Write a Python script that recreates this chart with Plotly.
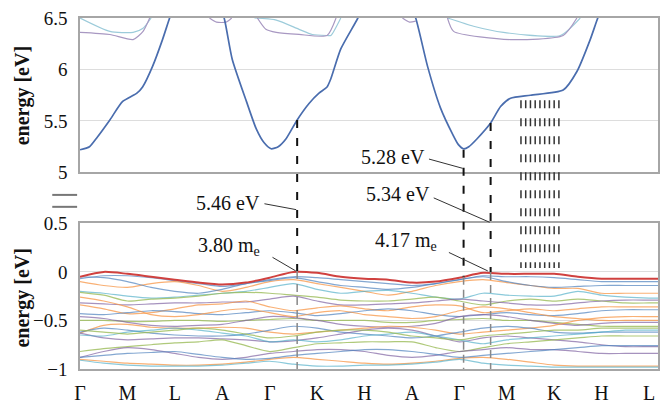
import plotly.graph_objects as go

# ---------------- data ----------------
tick_labels = ["Γ", "M", "L", "A", "Γ", "K", "H", "A", "Γ", "M", "K", "H", "L"]
tick_pos = [0, 1, 2, 3, 4, 5, 6, 7, 8, 9, 10, 11, 12]

# k grid for valence bands
kgrid = [0, 0.5, 1, 1.5, 2, 2.5, 3, 3.5, 4, 4.5, 5, 5.5, 6, 6.5, 7, 7.5, 8, 8.5, 9, 9.5,
         10, 10.5, 11, 11.5, 12, 12.2]

vb_top = [-0.05, 0.0, -0.02, -0.05, -0.08, -0.11, -0.13, -0.11, -0.06, 0.0, -0.01, -0.05, -0.07,
          -0.08, -0.11, -0.1, -0.06, -0.01, -0.02, -0.02, -0.02, -0.05, -0.07, -0.07, -0.07, -0.07]

vb_blue1 = [-0.07, -0.04, -0.04, -0.06, -0.09, -0.12, -0.15, -0.12, -0.08, -0.05, -0.06, -0.08, -0.10,
            -0.12, -0.14, -0.12, -0.08, -0.04, -0.05, -0.05, -0.06, -0.08, -0.10, -0.10, -0.10, -0.10]
vb_orange1 = [-0.10, -0.14, -0.16, -0.12, -0.10, -0.14, -0.20, -0.16, -0.10, -0.08, -0.12, -0.16, -0.20,
              -0.24, -0.20, -0.14, -0.10, -0.08, -0.11, -0.14, -0.17, -0.17, -0.22, -0.22, -0.22, -0.22]
vb_aqua1 = [-0.20, -0.22, -0.25, -0.27, -0.26, -0.24, -0.22, -0.20, -0.16, -0.12, -0.18, -0.22, -0.20,
            -0.19, -0.22, -0.26, -0.28, -0.22, -0.24, -0.25, -0.25, -0.20, -0.24, -0.26, -0.27, -0.27]
vb_green1 = [-0.21, -0.24, -0.30, -0.28, -0.27, -0.25, -0.22, -0.21, -0.22, -0.24, -0.26, -0.29, -0.30,
             -0.30, -0.28, -0.26, -0.30, -0.34, -0.30, -0.28, -0.30, -0.28, -0.30, -0.32, -0.32, -0.32]
vb_purple1 = [-0.32, -0.33, -0.34, -0.33, -0.32, -0.32, -0.31, -0.31, -0.28, -0.25, -0.30, -0.34, -0.34,
              -0.33, -0.32, -0.30, -0.28, -0.30, -0.32, -0.34, -0.34, -0.32, -0.30, -0.29, -0.29, -0.29]
vb_orange2 = [-0.34, -0.38, -0.43, -0.42, -0.38, -0.34, -0.33, -0.30, -0.36, -0.40, -0.37, -0.35, -0.38,
              -0.40, -0.36, -0.34, -0.35, -0.42, -0.40, -0.38, -0.40, -0.38, -0.36, -0.36, -0.36, -0.36]
vb_blue2 = [-0.43, -0.44, -0.42, -0.40, -0.41, -0.43, -0.44, -0.42, -0.40, -0.42, -0.45, -0.43, -0.40,
            -0.38, -0.40, -0.44, -0.46, -0.44, -0.42, -0.44, -0.45, -0.43, -0.40, -0.39, -0.39, -0.39]
vb_green2 = [-0.50, -0.50, -0.51, -0.51, -0.50, -0.50, -0.51, -0.50, -0.49, -0.48, -0.50, -0.50, -0.50,
             -0.52, -0.52, -0.50, -0.49, -0.48, -0.50, -0.50, -0.52, -0.54, -0.56, -0.56, -0.56, -0.56]
vb_purple2 = [-0.46, -0.48, -0.52, -0.55, -0.56, -0.55, -0.54, -0.50, -0.46, -0.47, -0.50, -0.54, -0.56,
              -0.57, -0.56, -0.53, -0.46, -0.44, -0.46, -0.50, -0.53, -0.55, -0.53, -0.52, -0.52, -0.52]
vb_orange3 = [-0.63, -0.55, -0.54, -0.57, -0.58, -0.58, -0.57, -0.58, -0.62, -0.64, -0.62, -0.60, -0.58,
              -0.56, -0.57, -0.60, -0.64, -0.62, -0.60, -0.58, -0.55, -0.50, -0.47, -0.46, -0.46, -0.46]
vb_blue3 = [-0.62, -0.58, -0.60, -0.63, -0.65, -0.66, -0.66, -0.64, -0.60, -0.56, -0.58, -0.62, -0.64,
            -0.66, -0.68, -0.66, -0.62, -0.58, -0.56, -0.58, -0.62, -0.63, -0.62, -0.62, -0.62, -0.62]
vb_purple3 = [-0.63, -0.68, -0.70, -0.69, -0.68, -0.68, -0.69, -0.70, -0.72, -0.71, -0.68, -0.64, -0.60,
              -0.58, -0.60, -0.66, -0.72, -0.68, -0.66, -0.68, -0.70, -0.72, -0.75, -0.77, -0.77, -0.77]
vb_aqua2 = [-0.65, -0.66, -0.62, -0.60, -0.58, -0.60, -0.63, -0.66, -0.72, -0.70, -0.72, -0.70, -0.66,
            -0.64, -0.62, -0.66, -0.70, -0.74, -0.70, -0.68, -0.66, -0.64, -0.62, -0.60, -0.60, -0.60]
vb_green3 = [-0.82, -0.79, -0.77, -0.75, -0.73, -0.72, -0.70, -0.76, -0.82, -0.78, -0.74, -0.73, -0.72,
             -0.72, -0.72, -0.78, -0.82, -0.78, -0.74, -0.72, -0.70, -0.68, -0.66, -0.66, -0.66, -0.66]
vb_purple4 = [-0.88, -0.82, -0.78, -0.80, -0.84, -0.88, -0.90, -0.88, -0.84, -0.82, -0.80, -0.80, -0.82,
              -0.86, -0.88, -0.86, -0.82, -0.80, -0.78, -0.80, -0.80, -0.82, -0.84, -0.84, -0.84, -0.84]
vb_orange4 = [-0.90, -0.92, -0.94, -0.95, -0.96, -0.96, -0.95, -0.93, -0.90, -0.88, -0.90, -0.92, -0.94,
              -0.95, -0.94, -0.92, -0.89, -0.88, -0.90, -0.93, -0.96, -0.97, -0.97, -0.97, -0.97, -0.97]
vb_aqua3 = [-0.91, -0.94, -0.96, -0.97, -0.97, -0.97, -0.96, -0.94, -0.92, -0.95, -0.97, -0.97, -0.96,
            -0.96, -0.95, -0.93, -0.90, -0.94, -0.96, -0.97, -0.98, -0.98, -0.98, -0.98, -0.98, -0.98]
vb_blue4 = [-0.88, -0.86, -0.84, -0.83, -0.82, -0.85, -0.88, -0.90, -0.89, -0.86, -0.84, -0.82, -0.80,
            -0.80, -0.82, -0.85, -0.88, -0.86, -0.84, -0.82, -0.80, -0.78, -0.76, -0.76, -0.76, -0.76]
vb_orange5 = [-0.26, -0.30, -0.36, -0.44, -0.46, -0.44, -0.40, -0.38, -0.42, -0.46, -0.42, -0.40, -0.44,
              -0.46, -0.48, -0.46, -0.40, -0.36, -0.38, -0.42, -0.46, -0.48, -0.50, -0.50, -0.50, -0.50]
vb_blue5 = [-0.05, -0.06, -0.10, -0.16, -0.20, -0.22, -0.18, -0.12, -0.09, -0.06, -0.10, -0.14, -0.16,
            -0.18, -0.16, -0.12, -0.08, -0.05, -0.10, -0.14, -0.16, -0.15, -0.14, -0.14, -0.14, -0.14]
vb_green4 = [-0.60, -0.62, -0.64, -0.62, -0.60, -0.58, -0.60, -0.64, -0.68, -0.66, -0.62, -0.60, -0.60,
             -0.62, -0.66, -0.68, -0.70, -0.66, -0.64, -0.62, -0.60, -0.60, -0.58, -0.58, -0.58, -0.58]

# conduction band (top panel)
cb_k = [0, 0.2, 0.36, 0.63, 0.9, 1.2, 1.32, 1.53, 1.74, 1.89, 2.05,
        2.9, 3.05, 3.21, 3.51, 3.72, 3.88, 4.03, 4.18, 4.35, 4.58, 4.83, 5.04, 5.21, 5.29, 5.5, 5.86, 6.05,
        6.9, 7.08, 7.33, 7.6, 7.86, 7.98, 8.09, 8.2, 8.38, 8.66, 8.87, 9.08, 9.5, 10.19, 10.48, 10.76,
        10.92, 11.1]
cb_e = [5.22, 5.25, 5.34, 5.51, 5.69, 5.77, 5.83, 6.03, 6.29, 6.5, 6.7,
        6.7, 6.48, 6.1, 5.69, 5.42, 5.29, 5.23, 5.25, 5.33, 5.51, 5.67, 5.77, 5.83, 5.91, 6.2, 6.5, 6.7,
        6.7, 6.5, 6.03, 5.63, 5.37, 5.27, 5.23, 5.25, 5.33, 5.48, 5.64, 5.72, 5.75, 5.80, 5.98, 6.29,
        6.5, 6.7]

# higher conduction bands (segments separated by None)
cb2_k = [0, 0.63, 1.12, 1.33, 1.5, None, 3.68, 4.14, 4.62, 4.9, 5.21, 5.29, 5.5, None,
         7.75, 8.3, 8.93, 10.13, 10.55]
cb2_e = [6.5, 6.37, 6.36, 6.4, 6.5, None, 6.5, 6.48, 6.39, 6.34, 6.33, 6.33, 6.5, None,
         6.5, 6.42, 6.36, 6.33, 6.5]
cb3_k = [0, 0.63, 1.12, 1.33, 1.47, None, 2.73, 2.88, 3.08, 3.2, None, 3.74, 3.92, 4.14, 4.62,
         5.21, 5.4, None, 6.8, 6.95, 7.08, None, 7.75, 7.88, 9.08, 10.19, 10.48]
cb3_e = [6.36, 6.34, 6.29, 6.37, 6.5, None, 6.5, 6.46, 6.46, 6.5, None, 6.5, 6.39, 6.36, 6.34,
         6.33, 6.5, None, 6.5, 6.46, 6.47, None, 6.5, 6.37, 6.29, 6.33, 6.5]

# annotation data
marker_k = [4.58, 8.09, 8.66]
marker_top_e = [5.51, 5.22, 5.48]
marker_bot_e = [0.01, -0.05, 0.0]
hatch_k = [9.30, 9.40, 9.50, 9.60, 9.70, 9.80, 9.90, 10.00, 10.10]
hatch_top_e = 5.70
hatch_bot_e = 0.04

# ---------------- layout geometry ----------------
TOP_DOM = [0.56, 1.0]
BOT_DOM = [0.0, 0.415]
TOP_RANGE = [5, 6.5]
BOT_RANGE = [-1, 0.5]
X_RANGE = [0, 12.19]


def top_paper(e):
    return TOP_DOM[0] + (e - TOP_RANGE[0]) / (TOP_RANGE[1] - TOP_RANGE[0]) * (TOP_DOM[1] - TOP_DOM[0])


def bot_paper(e):
    return BOT_DOM[0] + (e - BOT_RANGE[0]) / (BOT_RANGE[1] - BOT_RANGE[0]) * (BOT_DOM[1] - BOT_DOM[0])


BLUE = "rgba(79,129,189,0.7)"
ORANGE = "rgba(247,150,70,0.75)"
PURPLE = "rgba(128,100,162,0.7)"
GREEN = "rgba(155,187,89,0.8)"
AQUA = "rgba(75,172,198,0.65)"

bands = [
    (vb_blue1, BLUE), (vb_orange1, ORANGE), (vb_aqua1, AQUA), (vb_green1, GREEN),
    (vb_purple1, PURPLE), (vb_orange2, ORANGE), (vb_blue2, BLUE), (vb_green2, GREEN),
    (vb_purple2, PURPLE), (vb_orange3, ORANGE), (vb_blue3, BLUE), (vb_purple3, PURPLE),
    (vb_aqua2, AQUA), (vb_green3, GREEN), (vb_purple4, PURPLE), (vb_orange4, ORANGE),
    (vb_aqua3, AQUA), (vb_blue4, BLUE), (vb_orange5, ORANGE), (vb_blue5, BLUE),
    (vb_green4, GREEN),
]

fig = go.Figure()

for vals, col in bands:
    fig.add_trace(go.Scatter(x=kgrid, y=vals, mode="lines", xaxis="x", yaxis="y",
                             line=dict(color=col, width=1.2, shape="spline", smoothing=0.7),
                             hoverinfo="skip", showlegend=False))
fig.add_trace(go.Scatter(x=kgrid, y=vb_top, mode="lines", xaxis="x", yaxis="y",
                         line=dict(color="#D0413F", width=2, shape="spline", smoothing=0.7),
                         showlegend=False))

fig.add_trace(go.Scatter(x=cb2_k, y=cb2_e, mode="lines", xaxis="x2", yaxis="y2",
                         line=dict(color="#9CCBDA", width=1.2, shape="spline", smoothing=0.6),
                         showlegend=False))
fig.add_trace(go.Scatter(x=cb3_k, y=cb3_e, mode="lines", xaxis="x2", yaxis="y2",
                         line=dict(color="#A898C2", width=1.2, shape="spline", smoothing=0.6),
                         showlegend=False))
fig.add_trace(go.Scatter(x=cb_k, y=cb_e, mode="lines", xaxis="x2", yaxis="y2",
                         line=dict(color="#4A6DAE", width=1.7, shape="spline", smoothing=0.6),
                         showlegend=False))

shapes = []
# long dashed markers
for k, et, eb in zip(marker_k, marker_top_e, marker_bot_e):
    shapes.append(dict(type="line", xref="x", yref="paper", x0=k, x1=k,
                       y0=top_paper(et), y1=bot_paper(eb),
                       line=dict(color="#111111", width=2, dash="8px,10px")))
    shapes.append(dict(type="line", xref="x", yref="paper", x0=k, x1=k,
                       y0=bot_paper(eb), y1=bot_paper(BOT_RANGE[0]),
                       line=dict(color="#888888", width=1.5, dash="8px,5px")))
# hatching
for k in hatch_k:
    shapes.append(dict(type="line", xref="x", yref="paper", x0=k, x1=k,
                       y0=top_paper(hatch_top_e), y1=bot_paper(hatch_bot_e),
                       line=dict(color="#333333", width=1.5, dash="8px,10px")))
# axis break marks
for yp in [0.496, 0.462]:
    shapes.append(dict(type="line", xref="paper", yref="paper", x0=-0.048, x1=-0.005,
                       y0=yp, y1=yp, line=dict(color="#777777", width=2)))

# leader lines
leaders = [
    (3.89, "paper", 0.4708, 4.56, 0.454),
    (4.06, "y", 0.15, 4.55, 0.01),
    (7.36, "y2", 5.13, 8.07, 5.04),
    (7.46, "paper", 0.4875, 8.64, 0.418),
    (7.78, "y", 0.2, 8.6, 0.01),
]
for x0, ref, y0, x1, y1 in leaders:
    shapes.append(dict(type="line", xref="x", yref=ref, x0=x0, x1=x1, y0=y0, y1=y1,
                       line=dict(color="#333333", width=1)))

SERIF = "Liberation Serif, Times New Roman, DejaVu Serif, serif"
annots = [
    dict(text="5.46 eV", x=3.83, y=0.4735, xref="x", yref="paper"),
    dict(text="3.80 m<sub>e</sub>", x=3.83, y=0.26, xref="x", yref="y"),
    dict(text="5.28 eV", x=7.31, y=5.15, xref="x2", yref="y2"),
    dict(text="5.34 eV", x=7.42, y=0.4986, xref="x", yref="paper"),
    dict(text="4.17 m<sub>e</sub>", x=7.57, y=0.31, xref="x", yref="y"),
]
annotations = []
for a in annots:
    annotations.append(dict(a, showarrow=False, xanchor="right", yanchor="middle",
                            font=dict(family=SERIF, size=20, color="#111111")))
for yc in [0.779, 0.203]:
    annotations.append(dict(text="<b>energy [eV]</b>", textangle=-90, x=-0.099, y=yc,
                            xref="paper", yref="paper", showarrow=False,
                            xanchor="center", yanchor="middle",
                            font=dict(family=SERIF, size=20, color="#111111")))

axis_common = dict(showline=True, linecolor="#A6A6A6", linewidth=1.5, mirror=True,
                   zeroline=False)
TICKFONT = dict(family=SERIF, size=19, color="#111111")
XTICKFONT = dict(family=SERIF, size=20, color="#111111")

fig.update_layout(
    width=664, height=408,
    margin=dict(l=80, r=4, t=18, b=31),
    paper_bgcolor="white", plot_bgcolor="white",
    showlegend=False,
    font=dict(family=SERIF),
    xaxis=dict(domain=[0, 1], range=X_RANGE, anchor="y", tickmode="array",
               tickvals=tick_pos, ticktext=tick_labels, showgrid=False,
               ticks="", ticklabelstandoff=5, tickfont=XTICKFONT, **axis_common),
    yaxis=dict(domain=BOT_DOM, range=BOT_RANGE, anchor="x", tickvals=[-1, -0.5, 0, 0.5],
               ticktext=["\u2212" + "1", "\u2212" + "0.5", "0", "0.5"], showgrid=True,
               gridcolor="#DDDDDD", ticks="", ticklabelstandoff=7, tickfont=TICKFONT,
               **axis_common),
    xaxis2=dict(domain=[0, 1], range=X_RANGE, anchor="y2", showticklabels=False,
                showgrid=False, ticks="", matches="x", **axis_common),
    yaxis2=dict(domain=TOP_DOM, range=TOP_RANGE, anchor="x2", tickvals=[5, 5.5, 6, 6.5],
                ticktext=["5", "5.5", "6", "6.5"], showgrid=True, gridcolor="#DDDDDD",
                ticks="", ticklabelstandoff=7, tickfont=TICKFONT, **axis_common),
    shapes=shapes,
    annotations=annotations,
)

fig.write_html("out.html")
